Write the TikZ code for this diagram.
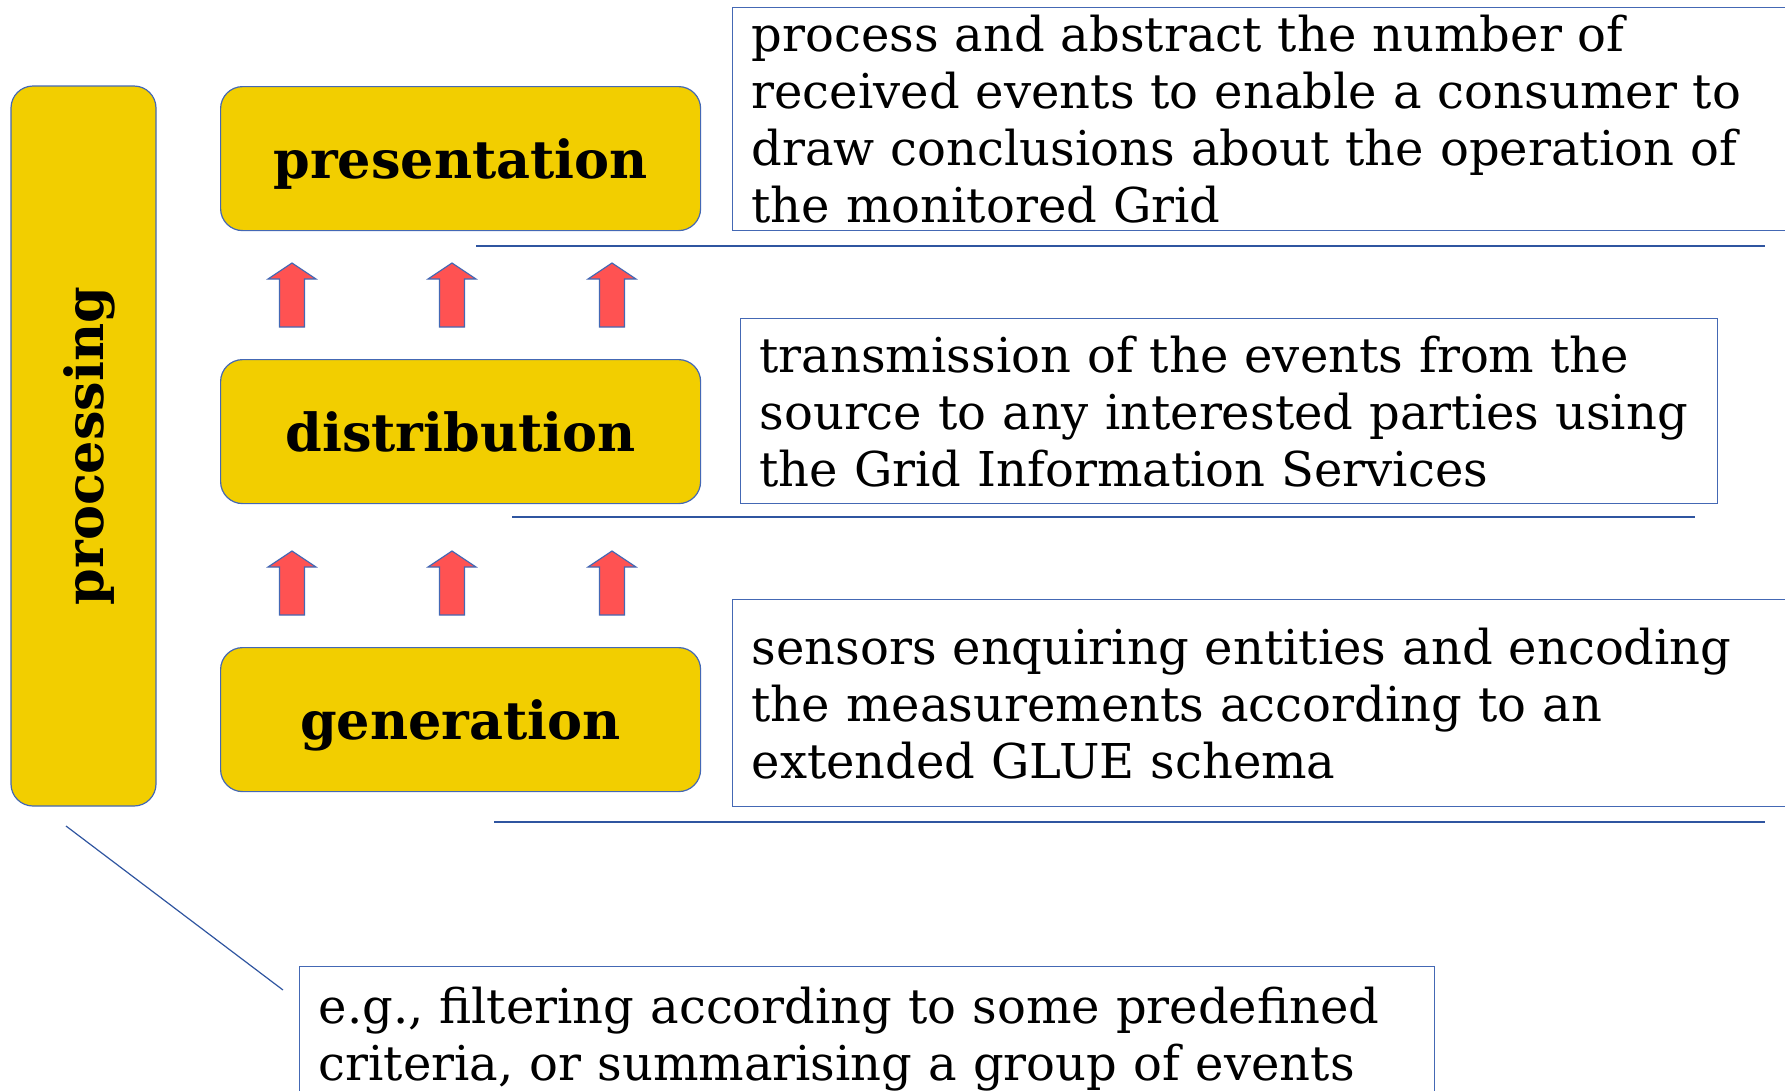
\documentclass[tikz,border=0pt]{standalone}
\usepackage{fontspec}
\setmainfont{DejaVu Serif}
\usetikzlibrary{calc}
\definecolor{layerYellow}{RGB}{242,206,0}
\definecolor{layerRed}{RGB}{255,82,82}
\definecolor{layerEdge}{RGB}{68,104,180}
\definecolor{ruleBlue}{RGB}{47,85,160}
\tikzstyle{layer}=[draw=layerEdge, fill=layerYellow, line width=1.2pt, rounded corners=22pt, minimum width=480pt, minimum height=144pt, anchor=north west, text depth=0pt, font=\fontsize{52.5}{56}\selectfont\bfseries]
\tikzstyle{note}=[draw=layerEdge, line width=1.2pt, anchor=north west, align=left, inner xsep=19pt, inner ysep=0pt, font=\fontsize{48}{57}\selectfont]
\tikzstyle{rule}=[draw=ruleBlue, line width=1.2pt]
\tikzstyle{flow}=[fill=layerRed, draw=layerEdge, line width=1.2pt]

\begin{document}
\begin{tikzpicture}[x=1pt, y=-1pt]
	\useasboundingbox (0,0) rectangle (1785,1090);
	\clip (0,0) rectangle (1785,1090);

	% Layers of the monitoring pipeline
	\node[layer, anchor=center, rotate=90, minimum width=720pt, minimum height=145pt] (processing) at (83.5,446) {processing};
	\node[layer] (presentation) at (220, 86) {presentation};
	\node[layer] (distribution) at (220,359) {distribution};
	\node[layer] (generation)   at (220,647) {generation};

	% Upward flow between the layers
	\foreach \x in {292, 452, 612}{
		\foreach \y in {263, 551}{
			\filldraw[flow] (\x,\y) -- (\x+24,\y+16) -- (\x+12.5,\y+16) -- (\x+12.5,\y+64)
				-- (\x-12.5,\y+64) -- (\x-12.5,\y+16) -- (\x-24,\y+16) -- cycle;
		}
	}

	% Descriptions of the layers
	\node[note, text width=1030pt, minimum height=223pt] (presentationNote) at (732,7)
		{process and abstract the number of\\received events to enable a consumer to\\draw conclusions about the operation of\\the monitored Grid};
	\node[note, text width=939pt, minimum height=185pt] (distributionNote) at (740,318)
		{transmission of the events from the\\source to any interested parties using\\the Grid Information Services};
	\node[note, text width=1030pt, minimum height=207pt] (generationNote) at (732,599)
		{sensors enquiring entities and encoding\\the measurements according to an\\extended GLUE schema};
	\node[note, text width=1097pt, minimum height=144pt] (processingNote) at (299,966)
		{e.g., filtering according to some predefined\\criteria, or summarising a group of events};

	% Separators
	\draw[rule] (476,246) -- (1765,246);
	\draw[rule] (512,517) -- (1695,517);
	\draw[rule] (494,822) -- (1765,822);

	% Callout of the processing layer
	\coordinate (calloutStart) at (66,826);
	\coordinate (calloutEnd) at (283,990);
	\draw[rule] (calloutStart) -- (calloutEnd);
\end{tikzpicture}
\end{document}
